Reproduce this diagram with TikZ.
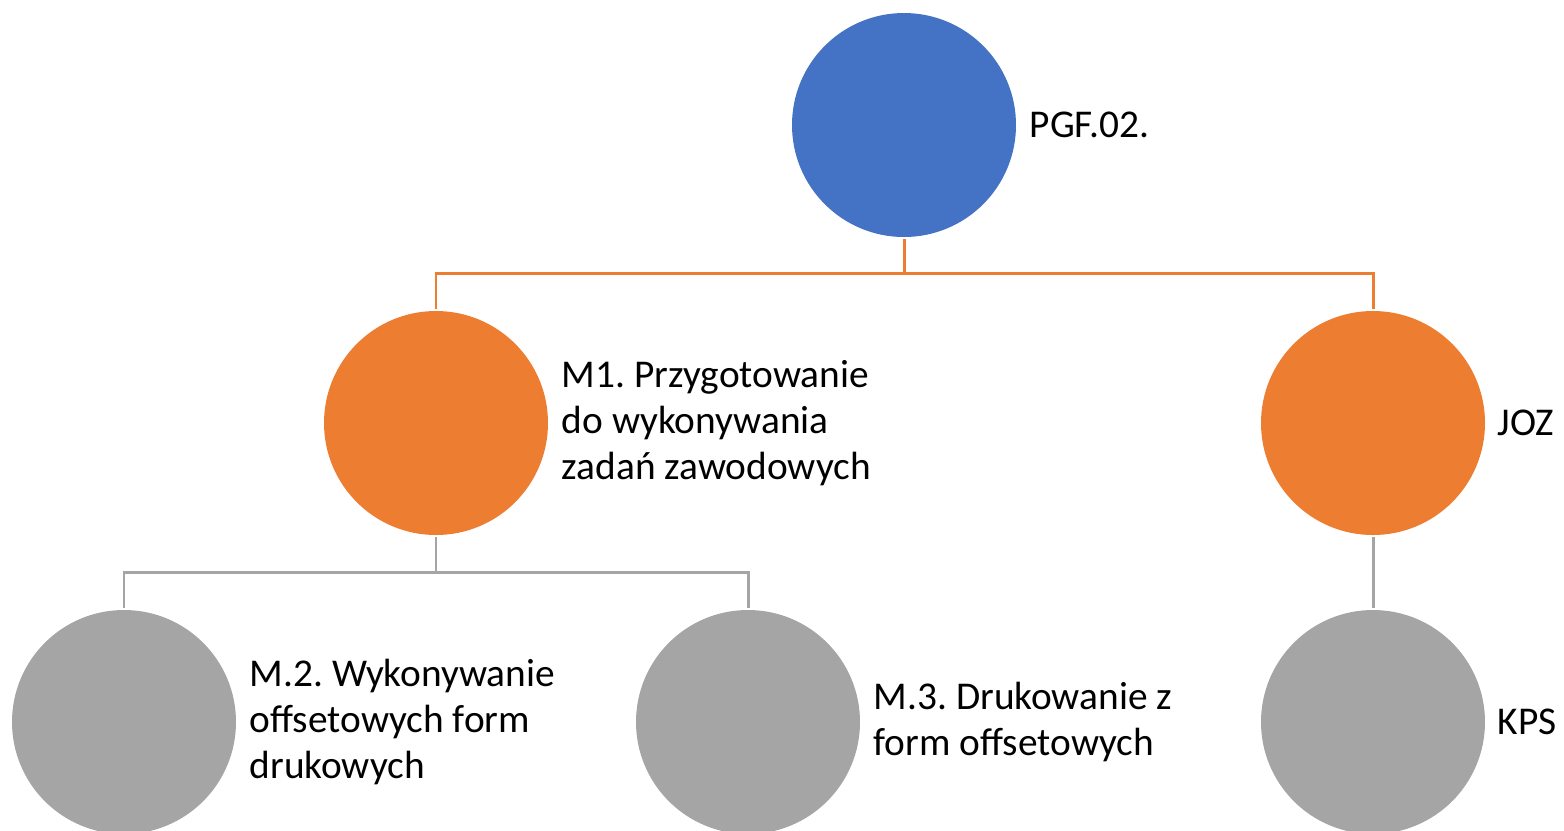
\documentclass[tikz,border=0pt]{standalone}
\usepackage{fontspec}
\setmainfont{Carlito}
\usetikzlibrary{positioning}
\definecolor{topblue}{HTML}{4472C4}
\definecolor{midorange}{HTML}{ED7D31}
\definecolor{lowgray}{HTML}{A5A5A5}
\frenchspacing

\begin{document}
\begin{tikzpicture}[
    unit/.style={circle, minimum size=2.24cm, inner sep=0pt, outer sep=0.02cm},
    desc/.style={inner sep=0pt, align=left, font=\fontsize{11.2pt}{13.1pt}\selectfont},
    link/.style={line width=0.85pt}
]
    \clip (0,0) rectangle (15.64,-8.30);

    % Define the circles
    \node[unit, fill=topblue] (pgf) at (9.04,-1.25) {};
    \node[unit, fill=midorange] (m1) at (4.36,-4.23) {};
    \node[unit, fill=midorange] (joz) at (13.73,-4.23) {};
    \node[unit, fill=lowgray] (m2) at (1.24,-7.22) {};
    \node[unit, fill=lowgray] (m3) at (7.48,-7.22) {};
    \node[unit, fill=lowgray] (kps) at (13.73,-7.22) {};

    % Labels
    \node[desc, right=0.11cm of pgf] (pgftext) {PGF.02.};
    \node[desc, right=0.11cm of m1] (m1text) {M1. Przygotowanie\\do wykonywania\\zadań zawodowych};
    \node[desc, right=0.10cm of joz] (joztext) {JOZ};
    \node[desc, right=0.11cm of m2] (m2text) {M.2. Wykonywanie\\offsetowych form\\drukowych};
    \node[desc, right=0.11cm of m3] (m3text) {M.3. Drukowanie z\\form offsetowych};
    \node[desc, right=0.10cm of kps] (kpstext) {KPS};

    % Connectors
    \coordinate (bus1) at (9.04,-2.73);
    \coordinate (bus2) at (4.36,-5.72);
    \draw[link, midorange] (pgf.south) -- (bus1) -| (m1.north);
    \draw[link, midorange] (bus1) -| (joz.north);
    \draw[link, lowgray] (m1.south) -- (bus2) -| (m2.north);
    \draw[link, lowgray] (bus2) -| (m3.north);
    \draw[link, lowgray] (joz.south) -- (kps.north);
\end{tikzpicture}
\end{document}
